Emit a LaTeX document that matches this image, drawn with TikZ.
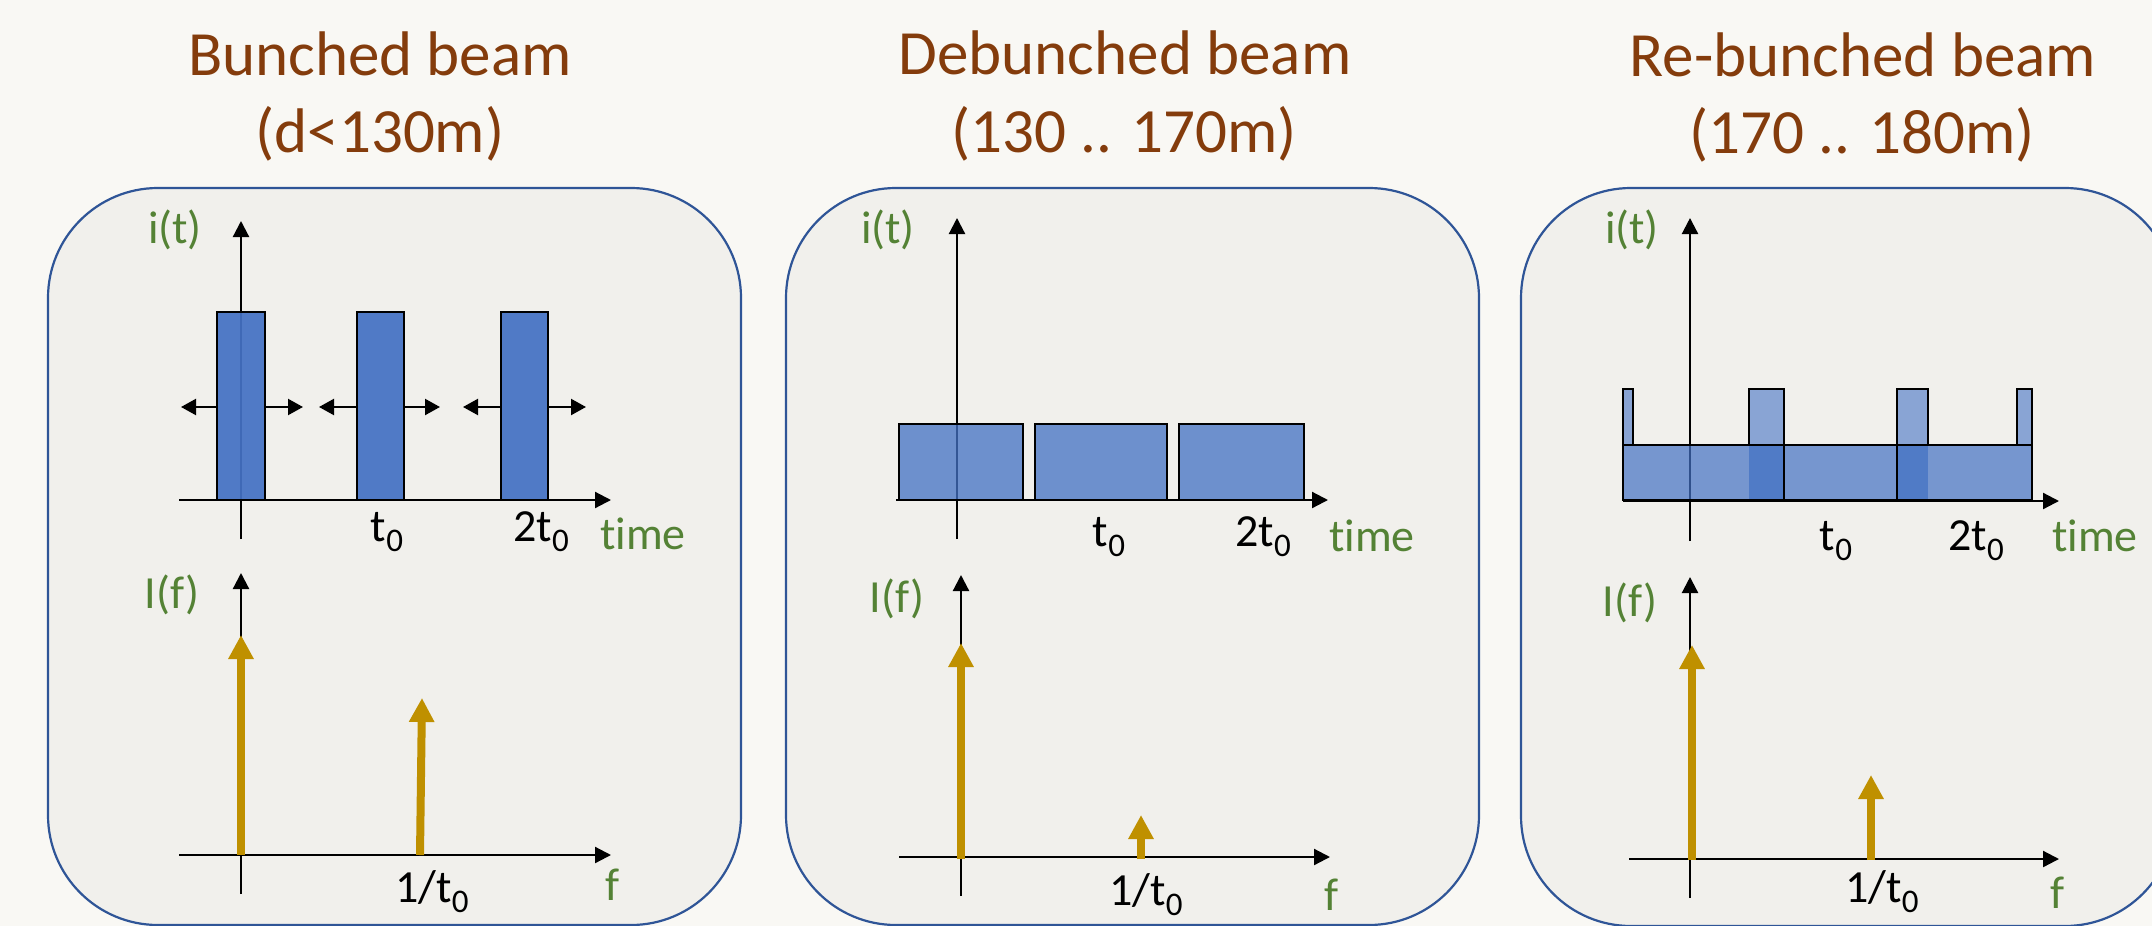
\documentclass[tikz,border=0pt]{standalone}
\usepackage{fontspec}
\setmainfont{Carlito}[Ligatures=NoCommon]
\usetikzlibrary{arrows.meta}
\definecolor{bg}{HTML}{F9F8F4}
\definecolor{boxfill}{HTML}{F1F0EC}
\definecolor{boxline}{HTML}{2F5597}
\definecolor{titlec}{HTML}{843C0C}
\definecolor{labc}{HTML}{548235}
\definecolor{barc}{HTML}{4472C4}
\definecolor{goldc}{HTML}{BF9000}
\definecolor{overc}{HTML}{4F7AC6}
\newcommand\lsub[1]{\raisebox{-10pt}{\fontsize{33}{33}\selectfont #1}}
\newcommand\timeword{t\kern0pt i\kern0pt me}
\tikzset{
  panel/.style={draw=boxline, line width=2.2pt, fill=boxfill, rounded corners=110pt},
  axis/.style={line width=2.2pt, -{Triangle[length=16pt,width=16pt]}},
  spread/.style={line width=2.2pt, -{Triangle[length=15pt,width=16pt]}},
  bunch/.style={draw=black, line width=2.8pt, fill=barc, fill opacity=0.93},
  debunch/.style={draw=black, line width=2.8pt, fill=barc, fill opacity=0.76},
  basefill/.style={fill=barc, fill opacity=0.71},
  overfill/.style={fill=overc, fill opacity=0.95},
  outl/.style={draw=black, line width=2.8pt},
  spike/.style={draw=black, line width=2.8pt, fill=barc, fill opacity=0.6},
  harmonic/.style={draw=goldc, line width=8pt, -{Triangle[length=24pt,width=24pt]}},
  ttl/.style={text=titlec, font=\fontsize{63}{70}\selectfont, inner sep=0pt, anchor=base},
  axlab/.style={text=labc, font=\fontsize{46}{50}\selectfont, inner sep=0pt},
  tick/.style={text=black, font=\fontsize{46}{50}\selectfont, inner sep=0pt, anchor=base},
}
\begin{document}
\begin{tikzpicture}[x=1pt,y=-1pt]
\useasboundingbox (0,0) rectangle (2152,926);
\clip (0,0) rectangle (2152,926);
\fill[bg] (0,0) rectangle (2152,926);

% titles
\node[ttl] (h1a) at (380,75) {Bunched beam};
\node[ttl] (h1b) at (380,152) {(d<130m)};
\node[ttl] (h2a) at (1125,74) {Debunched beam};
\node[ttl] (h2b) at (1124,152) {(130 .. 170m)};
\node[ttl] (h3a) at (1863,76) {Re-bunched beam};
\node[ttl] (h3b) at (1862,153) {(170 .. 180m)};

% panels
\draw[panel] (48,188) rectangle (741,925);
\draw[panel] (786,188) rectangle (1479,925);
\draw[panel] (1521,188) rectangle (2175,926);

% ---------- panel 1: bunched ----------
\draw[axis] (241,539) -- (241,221);
\draw[axis] (179,500) -- (611,500);
\draw[bunch] (217,312) rectangle (265,500);
\draw[bunch] (357,312) rectangle (404,500);
\draw[bunch] (501,312) rectangle (548,500);
\draw[spread] (217,407) -- (181,407);
\draw[spread] (265,407) -- (303,407);
\draw[spread] (357,407) -- (319,407);
\draw[spread] (404,407) -- (440,407);
\draw[spread] (501,407) -- (463,407);
\draw[spread] (548,407) -- (586,407);
\node[axlab] (it1) at (175,230) {i(t)};
\node[axlab] (tm1) at (643,534) {\timeword};
\node[tick] (ta1) at (387,541) {t\lsub{0}};
\node[tick] (tb1) at (541,541) {2t\lsub{0}};
\draw[axis] (241,894) -- (241,573);
\draw[axis] (179,855) -- (611,855);
\draw[harmonic] (241,855) -- (241,635);
\draw[harmonic] (420,855) -- (422,698);
\node[axlab] (If1) at (172,595) {I(f)};
\node[tick] (fr1) at (432,902) {1/t\lsub{0}};
\node[axlab, anchor=base] (f1) at (613,900) {f};

% ---------- panel 2: debunched ----------
\draw[axis] (957,539) -- (957,218);
\draw[axis] (896,500) -- (1328,500);
\draw[debunch] (899,424) rectangle (1023,500);
\draw[debunch] (1035,424) rectangle (1167,500);
\draw[debunch] (1179,424) rectangle (1304,500);
\node[axlab] (it2) at (888,230) {i(t)};
\node[axlab] (tm2) at (1372,536) {\timeword};
\node[tick] (ta2) at (1109,546) {t\lsub{0}};
\node[tick] (tb2) at (1263,546) {2t\lsub{0}};
\draw[axis] (961,896) -- (961,575);
\draw[axis] (899,857) -- (1330,857);
\draw[harmonic] (961,859) -- (961,643);
\draw[harmonic] (1141,859) -- (1141,815);
\node[axlab] (If2) at (897,599) {I(f)};
\node[tick] (fr2) at (1146,905) {1/t\lsub{0}};
\node[axlab, anchor=base] (f2) at (1332,910) {f};

% ---------- panel 3: re-bunched ----------
\draw[axis] (1690,541) -- (1690,218);
\draw[axis] (1623,501) -- (2059,501);
\fill[basefill] (1623,445) rectangle (2032,500);
\fill[overfill] (1749,445) rectangle (1784,500);
\fill[overfill] (1897,445) rectangle (1928,500);
\draw[outl] (1623,445) rectangle (1784,500);
\draw[outl] (1784,445) rectangle (1897,500);
\draw[outl] (1897,445) rectangle (2032,500);
\draw[spike] (1623,389) rectangle (1633,445);
\draw[spike] (1749,389) rectangle (1784,445);
\draw[spike] (1897,389) rectangle (1928,445);
\draw[spike] (2017,389) rectangle (2032,445);
\node[axlab] (it3) at (1632,230) {i(t)};
\node[axlab] (tm3) at (2095,536) {\timeword};
\node[tick] (ta3) at (1836,550) {t\lsub{0}};
\node[tick] (tb3) at (1976,550) {2t\lsub{0}};
\draw[axis] (1690,898) -- (1690,577);
\draw[axis] (1629,859) -- (2059,859);
\draw[harmonic] (1692,860) -- (1692,645);
\draw[harmonic] (1871,860) -- (1871,775);
\node[axlab] (If3) at (1630,603) {I(f)};
\node[tick] (fr3) at (1882,902) {1/t\lsub{0}};
\node[axlab, anchor=base] (f3) at (2057,908) {f};
\end{tikzpicture}
\end{document}
